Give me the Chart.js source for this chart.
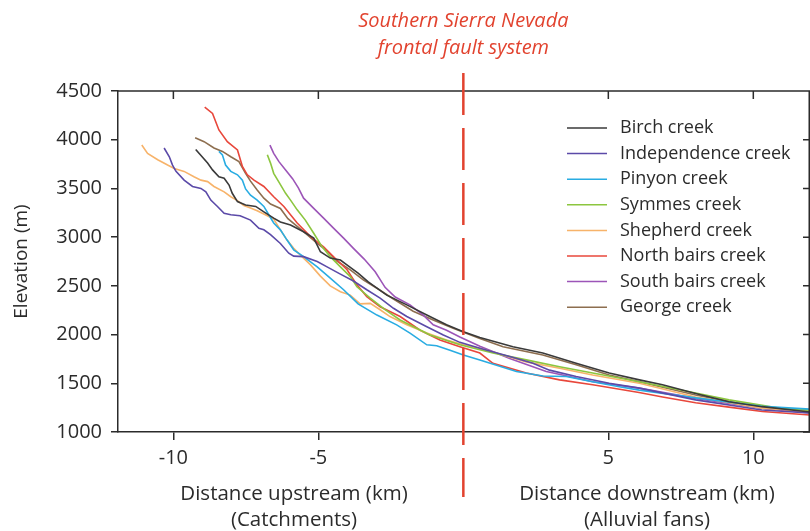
<!DOCTYPE html>
<html>
<head>
<meta charset="utf-8">
<script src="https://cdn.jsdelivr.net/npm/chart.js@4.4.0/dist/chart.umd.min.js"></script>
<style>
  html, body { margin: 0; padding: 0; background: #fff; }
  #profile { display: block; }
</style>
</head>
<body>
<canvas id="profile" width="810" height="531"></canvas>
<script>
// Longitudinal profiles: distance from the range front (km) vs elevation (m)
const creekNames = ["Birch creek", "Independence creek", "Pinyon creek", "Symmes creek",
  "Shepherd creek", "North bairs creek", "South bairs creek", "George creek"];

const birchKm = [-9.23, -8.82, -8.65, -8.43, -8.25, -8.08, -7.97, -7.79, -7.51, -7.16, -6.88, -6.54, -6.31, -5.96, -5.51, -5.16, -4.93, -4.59, -4.24, -3.97, -3.63, -3.28, -2.64, -1.95, -1.26, -0.58, 0, 0.57, 1.71, 2.74, 3.89, 5.03, 6.07, 6.87, 8.01, 9.16, 10.3, 11.95];
const birchElev = [3900, 3760, 3690, 3620, 3605, 3535, 3450, 3365, 3330, 3315, 3260, 3195, 3155, 3125, 3055, 2990, 2850, 2785, 2765, 2705, 2630, 2540, 2405, 2305, 2200, 2100, 2030, 1970, 1875, 1810, 1705, 1605, 1535, 1485, 1395, 1310, 1260, 1205];

const indepKm = [-10.32, -10.14, -10.03, -9.91, -9.63, -9.34, -9.05, -8.88, -8.71, -8.48, -8.25, -8.02, -7.7, -7.34, -7.05, -6.88, -6.65, -6.31, -6.02, -5.85, -5.51, -5.04, -4.7, -4.24, -3.79, -3.33, -2.87, -2.41, -1.95, -1.26, -0.69, -0.12, 0.57, 1.6, 2.4, 2.97, 3.89, 5.03, 6.07, 8.01, 10.3, 11.95];
const indepElev = [3915, 3825, 3740, 3675, 3585, 3520, 3500, 3465, 3380, 3315, 3245, 3230, 3220, 3175, 3090, 3075, 3025, 2935, 2835, 2805, 2800, 2750, 2695, 2620, 2550, 2460, 2375, 2270, 2185, 2080, 1995, 1920, 1860, 1775, 1705, 1635, 1570, 1500, 1450, 1330, 1225, 1195];

const pinyonKm = [-8.43, -8.31, -8.2, -8.02, -7.79, -7.62, -7.51, -7.34, -7.11, -6.88, -6.71, -6.54, -6.31, -6.08, -5.85, -5.51, -5.04, -4.59, -4.13, -3.63, -2.98, -2.3, -1.84, -1.26, -0.92, -0.46, 0, 0.57, 1.83, 2.74, 3.55, 4.46, 5.38, 6.07, 8.01, 10.3, 11.95];
const pinyonElev = [3880, 3845, 3740, 3675, 3640, 3585, 3495, 3430, 3380, 3315, 3230, 3145, 3075, 2970, 2870, 2800, 2695, 2580, 2460, 2315, 2200, 2100, 2015, 1895, 1885, 1840, 1790, 1740, 1620, 1575, 1570, 1515, 1465, 1430, 1350, 1265, 1235];

const symmesKm = [-6.76, -6.65, -6.54, -6.36, -6.13, -5.96, -5.73, -5.45, -5.16, -4.87, -4.59, -4.24, -3.9, -3.67, -3.21, -2.7, -2.18, -1.15, -0.12, 1.02, 2.17, 3.32, 4.46, 6.07, 8.01, 9.16, 10.88, 11.95];
const symmesElev = [3845, 3760, 3655, 3565, 3450, 3380, 3280, 3175, 3040, 2900, 2800, 2695, 2595, 2490, 2375, 2255, 2150, 1995, 1895, 1810, 1740, 1670, 1605, 1515, 1400, 1330, 1245, 1225];

const shepherdKm = [-11.09, -10.89, -10.54, -10.2, -9.97, -9.63, -9.29, -9.05, -8.82, -8.6, -8.25, -8.02, -7.79, -7.57, -7.34, -7.11, -6.76, -6.54, -6.31, -6.08, -5.85, -5.62, -5.27, -4.93, -4.59, -4.24, -3.9, -3.56, -3.21, -2.87, -2.53, -1.95, -1.26, -0.58, 0, 0.57, 2.17, 3.32, 4.46, 6.07, 8.01, 10.3, 11.95];
const shepherdElev = [3945, 3860, 3795, 3740, 3705, 3675, 3620, 3585, 3570, 3520, 3465, 3415, 3375, 3325, 3300, 3270, 3220, 3185, 3075, 2970, 2885, 2815, 2715, 2600, 2500, 2440, 2405, 2315, 2320, 2255, 2185, 2100, 2015, 1945, 1895, 1860, 1720, 1655, 1585, 1500, 1360, 1245, 1210];

const northKm = [-8.92, -8.65, -8.43, -8.14, -7.79, -7.62, -7.45, -7.22, -6.88, -6.54, -6.19, -5.73, -5.27, -4.82, -4.36, -4.01, -3.67, -3.33, -2.87, -2.18, -1.49, -0.81, -0.12, 0.57, 1.02, 2.17, 3.32, 4.46, 6.06, 6.87, 8.01, 9.16, 10.31, 11.95];
const northElev = [4335, 4270, 4100, 3980, 3895, 3725, 3640, 3585, 3520, 3415, 3315, 3145, 3005, 2900, 2765, 2665, 2510, 2390, 2285, 2185, 2045, 1945, 1875, 1810, 1705, 1605, 1535, 1485, 1405, 1360, 1300, 1255, 1210, 1175];

const southKm = [-6.67, -6.54, -6.36, -6.13, -5.89, -5.69, -5.51, -5.16, -4.82, -4.47, -4.13, -3.79, -3.42, -3.04, -2.7, -2.35, -1.84, -1.38, -1.04, -0.58, -0.12, 0.57, 1.6, 2.86, 3.66, 4.46, 6.07, 8.01, 10.3, 11.95];
const southElev = [3945, 3860, 3775, 3690, 3600, 3505, 3400, 3295, 3195, 3090, 2990, 2885, 2775, 2645, 2485, 2385, 2305, 2200, 2100, 2045, 1975, 1880, 1755, 1620, 1570, 1515, 1450, 1345, 1245, 1195];

const georgeKm = [-9.25, -8.94, -8.6, -8.31, -8.02, -7.74, -7.51, -7.34, -7.11, -6.88, -6.65, -6.31, -6.05, -5.73, -5.39, -5.04, -4.7, -4.36, -3.9, -3.44, -2.98, -2.41, -1.73, -1.04, -0.35, 0.57, 1.37, 2.74, 3.89, 5.03, 6.07, 8.01, 10.3, 11.95];
const georgeElev = [4020, 3980, 3915, 3880, 3825, 3775, 3655, 3575, 3485, 3400, 3340, 3295, 3190, 3110, 3025, 2935, 2860, 2755, 2665, 2560, 2475, 2365, 2240, 2150, 2065, 1960, 1875, 1790, 1690, 1585, 1515, 1380, 1245, 1210];

const xTickValues = [-10, -5, 5, 10];
const yTickValues = [1000, 1500, 2000, 2500, 3000, 3500, 4000, 4500];
const faultKm = 0;

// -------------------------
// Styling
// -------------------------
const FONT = "'Open Sans', 'Noto Sans', sans-serif";
const INK = "#2b2b2b";
const FAULT_RED = "#e2432f";
const lineColors = ["#3a3a3a", "#5b4aa8", "#29ace2", "#8cc63f", "#f7b36a", "#e8473b", "#9c55b8", "#8d6e4f"];

const profiles = [
  [birchKm, birchElev], [indepKm, indepElev], [pinyonKm, pinyonElev], [symmesKm, symmesElev],
  [shepherdKm, shepherdElev], [northKm, northElev], [southKm, southElev], [georgeKm, georgeElev]
];

const datasets = profiles.map(([km, elev], i) => ({
  label: creekNames[i],
  data: km.map((x, j) => ({ x: x, y: elev[j] })),
  borderColor: lineColors[i],
  borderWidth: 1.6,
  pointRadius: 0,
  tension: 0,
  fill: false
}));

// -------------------------
// Frame, fault line, labels and legend
// -------------------------
const decorations = {
  id: "decorations",
  afterDraw(chart) {
    const { ctx, chartArea: a, scales } = chart;
    const xs = scales.x, ys = scales.y;
    ctx.save();

    // top and right edges of the box with inward ticks
    ctx.strokeStyle = INK;
    ctx.lineWidth = 1.5;
    ctx.beginPath();
    ctx.moveTo(a.left, a.top);
    ctx.lineTo(a.right, a.top);
    ctx.moveTo(a.right - 0.75, a.top);
    ctx.lineTo(a.right - 0.75, a.bottom);
    xTickValues.forEach(v => {
      const px = xs.getPixelForValue(v);
      ctx.moveTo(px, a.top);
      ctx.lineTo(px, a.top + 8);
    });
    yTickValues.forEach(v => {
      const py = ys.getPixelForValue(v);
      ctx.moveTo(a.right, py);
      ctx.lineTo(a.right - 7, py);
    });
    ctx.stroke();

    // range-front fault
    const fx = xs.getPixelForValue(faultKm);
    ctx.strokeStyle = FAULT_RED;
    ctx.lineWidth = 2.5;
    ctx.setLineDash([42, 13]);
    ctx.beginPath();
    ctx.moveTo(fx, 73);
    ctx.lineTo(fx, 497);
    ctx.stroke();
    ctx.setLineDash([]);

    ctx.fillStyle = FAULT_RED;
    ctx.textAlign = "center";
    ctx.textBaseline = "middle";
    ctx.font = "italic 20px " + FONT;
    ctx.fillText("Southern Sierra Nevada", fx, 21);
    ctx.fillText("frontal fault system", fx, 48);

    // axis titles
    ctx.fillStyle = INK;
    ctx.font = "20.5px " + FONT;
    ctx.fillText("Distance upstream (km)", 294, 494);
    ctx.fillText("(Catchments)", 294, 520);
    ctx.fillText("Distance downstream (km)", 647, 494);
    ctx.fillText("(Alluvial fans)", 647, 520);

    ctx.save();
    ctx.translate(22, (a.top + a.bottom) / 2);
    ctx.rotate(-Math.PI / 2);
    ctx.font = "19px " + FONT;
    ctx.fillText("Elevation (m)", 0, 0);
    ctx.restore();

    // legend
    ctx.font = "18px " + FONT;
    ctx.textAlign = "left";
    chart.data.datasets.forEach((ds, i) => {
      const y = 128 + i * 25.6;
      ctx.strokeStyle = ds.borderColor;
      ctx.lineWidth = 1.5;
      ctx.beginPath();
      ctx.moveTo(567, y);
      ctx.lineTo(607, y);
      ctx.stroke();
      ctx.fillStyle = INK;
      ctx.fillText(ds.label, 620, y);
    });

    ctx.restore();
  }
};

const ctx = document.getElementById("profile").getContext("2d");

new Chart(ctx, {
  type: "line",
  data: { datasets },
  options: {
    responsive: false,
    animation: false,
    layout: { padding: { top: 91, right: 0, left: 0, bottom: 0 } },
    plugins: { legend: { display: false }, tooltip: { enabled: false } },
    scales: {
      x: {
        type: "linear",
        min: -11.91,
        max: 11.955,
        afterFit: s => { s.height = 99; },
        afterBuildTicks: s => { s.ticks = xTickValues.map(v => ({ value: v })); },
        ticks: { color: INK, font: { family: FONT, size: 20 }, padding: 6, maxRotation: 0,
                 callback: v => String(v) },
        grid: { drawOnChartArea: false, drawTicks: true, tickLength: 8, color: INK, lineWidth: 1.5 },
        border: { display: true, color: INK, width: 1.5 }
      },
      y: {
        type: "linear",
        min: 1000,
        max: 4500,
        afterFit: s => { s.width = 118; },
        afterBuildTicks: s => { s.ticks = yTickValues.map(v => ({ value: v })); },
        ticks: { color: INK, font: { family: FONT, size: 20 }, padding: 9,
                 callback: v => String(v) },
        grid: { drawOnChartArea: false, drawTicks: true, tickLength: 7, color: INK, lineWidth: 1.5 },
        border: { display: true, color: INK, width: 1.5 }
      }
    }
  },
  plugins: [decorations]
});
</script>
</body>
</html>
